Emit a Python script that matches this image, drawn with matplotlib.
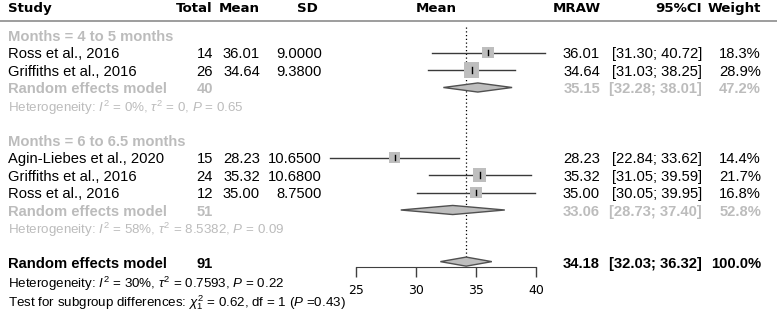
import numpy as np
import matplotlib

matplotlib.use("Agg")
import matplotlib.pyplot as plt  # noqa: E402
from matplotlib.patches import Polygon  # noqa: E402

plt.rcParams["mathtext.fontset"] = "custom"
plt.rcParams["mathtext.rm"] = "Liberation Sans"
plt.rcParams["mathtext.it"] = "Liberation Sans:italic"
plt.rcParams["mathtext.bf"] = "Liberation Sans:bold"

# study data
studies = ["Ross et al., 2016", "Griffiths et al., 2016",
           "Agin-Liebes et al., 2020", "Griffiths et al., 2016", "Ross et al., 2016"]
group_of = [0, 0, 1, 1, 1]
totals = [14, 26, 15, 24, 12]
means = [36.01, 34.64, 28.23, 35.32, 35.00]
sds = [9.0000, 9.3800, 10.6500, 10.6800, 8.7500]
ci_low = [31.30, 31.03, 22.84, 31.05, 30.05]
ci_high = [40.72, 38.25, 33.62, 39.59, 39.95]
weights = [18.3, 28.9, 14.4, 21.7, 16.8]

# subgroup and overall pooled results
group_labels = ["Months = 4 to 5 months", "Months = 6 to 6.5 months"]
group_totals = [40, 51]
group_est = [35.15, 33.06]
group_low = [32.28, 28.73]
group_high = [38.01, 37.40]
group_weight = [47.2, 52.8]
group_het = [r"Heterogeneity: $I^2$ = 0%, $\tau^2$ = 0, $P$ = 0.65",
             r"Heterogeneity: $I^2$ = 58%, $\tau^2$ = 8.5382, $P$ = 0.09"]
overall_total = 91
overall_est, overall_low, overall_high = 34.18, 32.03, 36.32
overall_het = r"Heterogeneity: $I^2$ = 30%, $\tau^2$ = 0.7593, $P$ = 0.22"
subgroup_test = r"Test for subgroup differences: $\chi^2_1$ = 0.62, df = 1 ($P$ =0.43)"
x_ticks = [25, 30, 35, 40]

GREY_TXT = "#bcbcbc"
BOX = "#bebebe"
BODY = dict(family="Liberation Sans", fontsize=10.6)
HET = dict(family="Liberation Sans", fontsize=9.6)
HEAD = dict(family="DejaVu Sans", fontsize=9.6, fontweight="bold")

# row layout: row 0 is the first subgroup label
study_rows = [1, 2, 7, 8, 9]
label_rows = [0, 6]
pooled_rows = [3, 10]
het_rows = [4, 11]
overall_row = 13
axis_row = 13.26
y_top, y_bottom = -2.0, 16.057

fig = plt.figure(figsize=(7.77, 3.16), dpi=100)
tax = fig.add_axes([0, 0, 1, 1])
tax.set_xlim(0, 777)
tax.set_ylim(y_bottom, y_top)
tax.axis("off")

ax = fig.add_axes([356 / 777, 0, 180 / 777, 1])
ax.set_xlim(25, 40)
ax.set_ylim(y_bottom, y_top)
ax.patch.set_alpha(0)

# header
hy = -1.6
tax.text(8, hy, "Study", ha="left", va="center_baseline", **HEAD)
tax.text(213, hy, "Total", ha="right", va="center_baseline", **HEAD)
tax.text(260, hy, "Mean", ha="right", va="center_baseline", **HEAD)
tax.text(318, hy, "SD", ha="right", va="center_baseline", **HEAD)
tax.text(436, hy, "Mean", ha="center", va="center_baseline", **HEAD)
tax.text(601, hy, "MRAW", ha="right", va="center_baseline", **HEAD)
tax.text(702, hy, "95%CI", ha="right", va="center_baseline", **HEAD)
tax.text(761, hy, "Weight", ha="right", va="center_baseline", **HEAD)
tax.axhline(-0.8, color="#8c8c8c", lw=1.2)

# individual studies
for i, name in enumerate(studies):
    r = study_rows[i]
    tax.text(8, r, name, ha="left", va="center_baseline", **BODY)
    tax.text(213, r, f"{totals[i]}", ha="right", va="center_baseline", **BODY)
    tax.text(260, r, f"{means[i]:.2f}", ha="right", va="center_baseline", **BODY)
    tax.text(322, r, f"{sds[i]:.4f}", ha="right", va="center_baseline", **BODY)
    tax.text(600, r, f"{means[i]:.2f}", ha="right", va="center_baseline", **BODY)
    tax.text(702, r, f"[{ci_low[i]:.2f}; {ci_high[i]:.2f}]", ha="right", va="center_baseline", **BODY)
    tax.text(761, r, f"{weights[i]:.1f}%", ha="right", va="center_baseline", **BODY)

    ax.plot([ci_low[i], ci_high[i]], [r, r], color="#3a3a3a", lw=1.0, clip_on=False, zorder=2)
    side_px = 2.8 * np.sqrt(weights[i])
    ax.scatter([means[i]], [r], marker="s", s=(side_px * 0.72) ** 2, color=BOX,
               edgecolors="none", clip_on=False, zorder=3)
    ax.plot([means[i], means[i]], [r - 0.15, r + 0.15], color="black", lw=1.0, clip_on=False, zorder=4)


def diamond(est, lo, hi, row, face, edge):
    h = 0.26
    poly = Polygon([[lo, row], [est, row - h], [hi, row], [est, row + h]], closed=True,
                   facecolor=face, edgecolor=edge, lw=1.0, clip_on=False, zorder=3)
    ax.add_patch(poly)


# subgroups
for g, label in enumerate(group_labels):
    tax.text(8, label_rows[g], label, ha="left", va="center_baseline", color=GREY_TXT,
             fontweight="bold", **BODY)
    r = pooled_rows[g]
    tax.text(8, r, "Random effects model", ha="left", va="center_baseline", color=GREY_TXT,
             fontweight="bold", **BODY)
    tax.text(213, r, f"{group_totals[g]}", ha="right", va="center_baseline", color=GREY_TXT,
             fontweight="bold", **BODY)
    tax.text(600, r, f"{group_est[g]:.2f}", ha="right", va="center_baseline", color=GREY_TXT,
             fontweight="bold", **BODY)
    tax.text(702, r, f"[{group_low[g]:.2f}; {group_high[g]:.2f}]", ha="right", va="center_baseline",
             color=GREY_TXT, fontweight="bold", **BODY)
    tax.text(761, r, f"{group_weight[g]:.1f}%", ha="right", va="center_baseline", color=GREY_TXT,
             fontweight="bold", **BODY)
    tax.text(8, het_rows[g], group_het[g], ha="left", va="center_baseline", color=GREY_TXT, **HET)
    diamond(group_est[g], group_low[g], group_high[g], r, BOX, "#505050")

# overall
r = overall_row
tax.text(8, r, "Random effects model", ha="left", va="center_baseline", fontweight="bold", **BODY)
tax.text(213, r, f"{overall_total}", ha="right", va="center_baseline", fontweight="bold", **BODY)
tax.text(600, r, f"{overall_est:.2f}", ha="right", va="center_baseline", fontweight="bold", **BODY)
tax.text(702, r, f"[{overall_low:.2f}; {overall_high:.2f}]", ha="right", va="center_baseline",
         fontweight="bold", **BODY)
tax.text(761, r, "100.0%", ha="right", va="center_baseline", fontweight="bold", **BODY)
tax.text(8, 14.1, overall_het, ha="left", va="center_baseline", **HET)
tax.text(8, 15.15, subgroup_test, ha="left", va="center_baseline", **HET)
diamond(overall_est, overall_low, overall_high, r - 0.05, BOX, "#505050")

# reference line at the pooled estimate
ax.plot([overall_est, overall_est], [-0.46, 12.7], color="black", lw=0.9, ls=(0, (1, 2)), zorder=1)

# x axis
for side in ("top", "left", "right"):
    ax.spines[side].set_visible(False)
ax.spines["bottom"].set_position(("data", axis_row))
ax.spines["bottom"].set_bounds(25, 40)
ax.spines["bottom"].set_color("#404040")
ax.set_yticks([])
ax.set_xticks(x_ticks)
ax.tick_params(axis="x", direction="out", length=7, width=1, color="#404040", pad=5,
               labelsize=9, labelfontfamily="DejaVu Sans")

fig.savefig("out.png", dpi=100)
